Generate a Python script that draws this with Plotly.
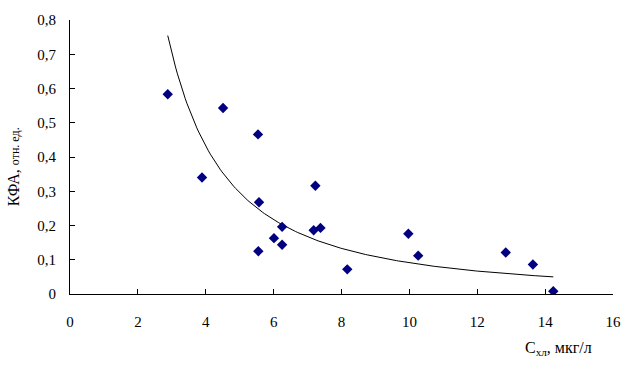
import numpy as np
import plotly.graph_objects as go

# Concentration of chlorophyll, µg/l
x_chl = [2.88, 3.89, 4.51, 5.54, 5.57, 5.55, 6.01, 6.25, 6.25, 7.23, 7.18, 7.38,
         8.17, 9.97, 10.26, 12.84, 13.64, 14.24]
# KFA, relative units
y_kfa = [0.583, 0.340, 0.543, 0.466, 0.268, 0.125, 0.163, 0.196, 0.144, 0.316, 0.186, 0.193,
         0.072, 0.176, 0.112, 0.121, 0.086, 0.008]

y_ticks = [0, 0.1, 0.2, 0.3, 0.4, 0.5, 0.6, 0.7, 0.8]
y_ticktext = ["0", "0,1", "0,2", "0,3", "0,4", "0,5", "0,6", "0,7", "0,8"]
x_ticks = [0, 2, 4, 6, 8, 10, 12, 14, 16]

# Power trendline (least squares in log-log space, as in spreadsheet trendlines)
xa = np.array(x_chl); ya = np.array(y_kfa)
b, lna = np.polyfit(np.log(xa), np.log(ya), 1)
a = np.exp(lna)
xt = np.linspace(xa.min(), xa.max(), 200)
yt = a * xt ** b

font_family = "Liberation Serif, Times New Roman, serif"

fig = go.Figure()
fig.add_trace(go.Scatter(x=xt, y=yt, mode="lines", line=dict(color="black", width=1),
                         hoverinfo="skip", showlegend=False))
fig.add_trace(go.Scatter(x=x_chl, y=y_kfa, mode="markers",
                         marker=dict(symbol="diamond", size=8, color="#000080"),
                         showlegend=False))

fig.update_layout(
    width=633, height=369,
    margin=dict(l=70, r=19, t=17, b=75),
    paper_bgcolor="white", plot_bgcolor="white",
    font=dict(family=font_family, size=15, color="black"),
    xaxis=dict(range=[0, 16], tickvals=x_ticks, showgrid=False, zeroline=False,
               showline=True, linecolor="black", linewidth=1,
               ticks="inside", ticklen=5, tickcolor="black",
               ticklabelstandoff=14, tickfont=dict(family=font_family, size=15)),
    yaxis=dict(range=[0, 0.8], tickvals=y_ticks, ticktext=y_ticktext, showgrid=False,
               zeroline=False, showline=True, linecolor="black", linewidth=1,
               ticks="inside", ticklen=5, tickcolor="black",
               ticklabelstandoff=10, tickfont=dict(family=font_family, size=15)),
    annotations=[
        dict(text="КФА, <span style='font-size:12px;font-style:normal'>отн. ед.</span>",
             xref="paper", yref="paper", x=-0.105, y=0.466,
             xanchor="center", yanchor="middle", textangle=-90, showarrow=False,
             font=dict(family=font_family, size=16)),
        dict(text="С<sub>хл</sub>, мкг/л", xref="x", yref="paper", x=14.4, y=-0.2,
             xanchor="center", yanchor="middle", showarrow=False,
             font=dict(family=font_family, size=16)),
    ],
)

fig.write_html("out.html")
